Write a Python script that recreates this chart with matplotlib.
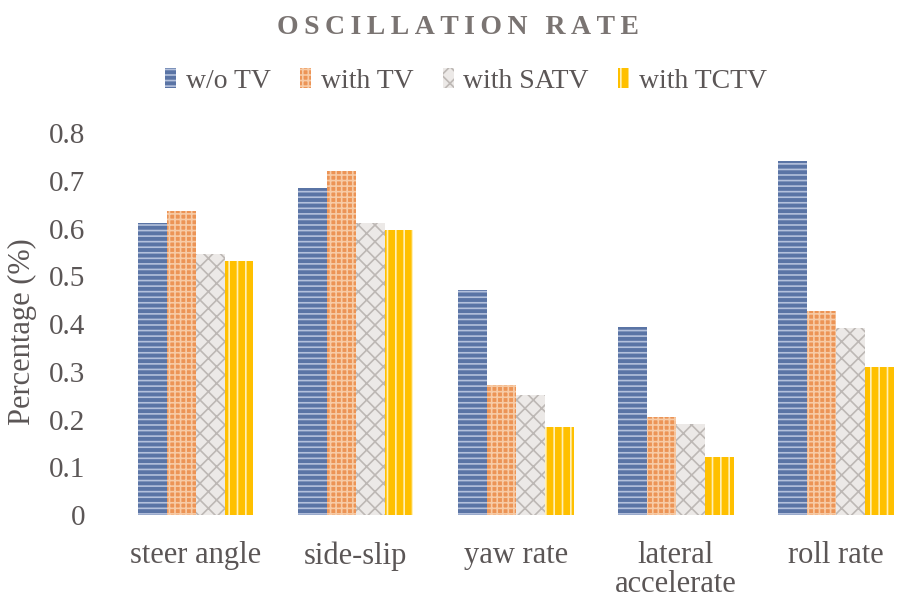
import numpy as np
import matplotlib
matplotlib.use("Agg")
import matplotlib.pyplot as plt
from matplotlib.patches import Patch

# data
categories = ["steer angle", "side-slip", "yaw rate", "lateral\naccelerate", "roll rate"]
series_names = ["w/o TV", "with TV", "with SATV", "with TCTV"]
wo_tv = [0.612, 0.686, 0.472, 0.394, 0.742]
with_tv = [0.637, 0.721, 0.273, 0.205, 0.428]
with_satv = [0.547, 0.612, 0.252, 0.191, 0.391]
with_tctv = [0.532, 0.597, 0.184, 0.122, 0.310]
y_ticks = [0, 0.1, 0.2, 0.3, 0.4, 0.5, 0.6, 0.7, 0.8]
y_tick_labels = ["0", "0.1", "0.2", "0.3", "0.4", "0.5", "0.6", "0.7", "0.8"]

# (face, hatch colour, hatch)
styles = [
    ("#5a74a5", "#b4c1dc", "---"),
    ("#ec9456", "#f7cba6", "+++"),
    ("#ece9e7", "#bdb8b5", "xx"),
    ("#ffc000", "#fff0b8", "||"),
]

text_col = "#5b5656"
plt.rcParams["font.family"] = ["Liberation Serif", "DejaVu Serif"]
plt.rcParams["hatch.linewidth"] = 1.2

fig = plt.figure(figsize=(8.98, 6.03), dpi=100)
ax = fig.add_axes([0.129, 0.146, 0.891, 0.633])

x = np.arange(len(categories))
bw = 0.18
all_vals = [wo_tv, with_tv, with_satv, with_tctv]
for i, vals in enumerate(all_vals):
    fc, hc, hatch = styles[i]
    ax.bar(x + (i - 1.5) * bw, vals, bw, color=fc, edgecolor=hc,
           hatch=hatch, linewidth=0)

ax.set_xlim(-0.5, len(categories) - 0.5)
ax.set_ylim(0, 0.8)
ax.set_yticks(y_ticks)
ax.set_yticklabels(y_tick_labels)
ax.set_xticks(x)
ax.set_xticklabels(categories, linespacing=1.0)
ax.tick_params(axis="y", length=0, pad=22, labelsize=21, labelcolor=text_col)
ax.tick_params(axis="x", length=0, pad=19, labelsize=22, labelcolor=text_col)
for s in ax.spines.values():
    s.set_visible(False)

fig.text(0.025, 0.45, "Percentage (%)", rotation=90, ha="center", va="center",
         fontsize=22, color=text_col)

title = "\u2009".join("OSCILLATION RATE")
fig.text(0.51, 0.955, title, ha="center", va="center", fontsize=20,
         fontweight="bold", color="#7a7472")

handles = [Patch(facecolor=s[0], edgecolor=s[1], hatch=s[2], linewidth=0) for s in styles]
fig.legend(handles, series_names, loc="center", bbox_to_anchor=(0.519, 0.866),
           ncol=4, frameon=False, fontsize=20, handlelength=0.4, handleheight=0.75,
           handletextpad=0.35, columnspacing=1.05, labelcolor=text_col)

fig.savefig("out.png", dpi=100)
